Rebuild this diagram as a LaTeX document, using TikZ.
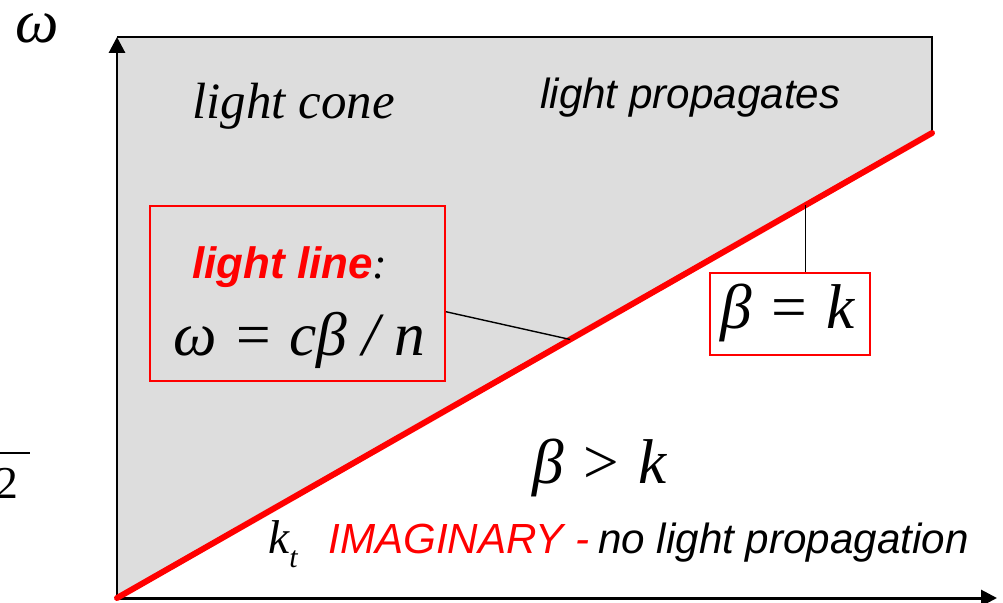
\documentclass[tikz,border=0pt]{standalone}
\usepackage{fontspec}
\setmainfont{Liberation Serif}
\newfontfamily\arialfont{Liberation Sans}
\usetikzlibrary{arrows.meta,positioning,calc}
\definecolor{lcink}{HTML}{000000}
\definecolor{lcred}{HTML}{FF0000}
\definecolor{lcgrey}{HTML}{DDDDDD}

\begin{document}
\begin{tikzpicture}[x=0.02cm, y=-0.02cm,
        axis/.style={line width=1.7pt, lcink,
                     -{Triangle[length=3.2mm,width=3.2mm]}},
        rim/.style={line width=1.1pt, lcink},
        lightln/.style={line width=3.4pt, lcred, line cap=round},
        tag/.style={line width=0.8pt, lcink},
        lbox/.style={draw=lcred, line width=1.1pt, inner sep=0pt},
        txt/.style={inner sep=0pt, anchor=base west},
        ser/.style={txt, font=\fontsize{#1}{#1}\selectfont\itshape},
        ari/.style={txt, font=\fontsize{#1}{#1}\selectfont\arialfont\itshape}
    ]
        \useasboundingbox (0,0) rectangle (1003,602);
        % axes and light cone
        \coordinate (O) at (117,598);
        \coordinate (top) at (117,37);
        \coordinate (corner) at (932,37);
        \coordinate (R) at (932,133);
        \coordinate (xend) at (997,598);
        \fill[lcgrey] (O) -- (top) -- (corner) -- (R) -- cycle;
        \draw[rim] (top) -- (corner) -- (R);
        \draw[axis] (O) -- (top);
        \draw[axis] (O) -- (xend);
        \draw[lightln] (O) -- (R);
        \coordinate (llfoot) at ($(O)!0.556!(R)$);
        \coordinate (bkfoot) at ($(O)!0.845!(R)$);

        \node[ser=35] (w) at (15,42) {ω};
        \node[txt, font=\fontsize{26}{26}\selectfont] (frag) at (-5,498)
            {\rlap{\rule[25pt]{20pt}{1.1pt}}2};

        \node[ser=29] (cone) at (192,118) {light cone};
        \node[ari=24] (prop) at (540,108) {light propagates};

        % light line box
        \node[lbox, fill=lcgrey, minimum width=5.9cm, minimum height=3.5cm]
            (llbox) at (297.5,293.5) {};
        \node[ari=25] (lltitle) at (192,278)
            {{\bfseries\color{lcred}light line}\rmfamily\itshape :};
        \node[ser=35] (lleq) at (173,355) {ω = cβ / n};
        \draw[tag] (llbox.-7) -- (llfoot);

        % beta = k box
        \node[lbox, fill=white, minimum width=3.2cm, minimum height=1.64cm]
            (bkbox) at (790,314) {};
        \node[ser=36] (bkeq) at (720,328) {β = k};
        \draw[tag] (bkfoot) -- (bkfoot |- bkbox.north);

        \node[ser=36] (bgt) at (532,483) {β > k};

        % bottom line
        \node[ser=27] (kt) at (268,553) {k\raisebox{-0.3em}{\fontsize{17}{17}\selectfont t}};
        \node[ari=24, text=lcred] (imag) at (328,553) {IMAGINARY -};
        \node[ari=24] (nolight) at (598,553) {no light propagation};
    \end{tikzpicture}
\end{document}
